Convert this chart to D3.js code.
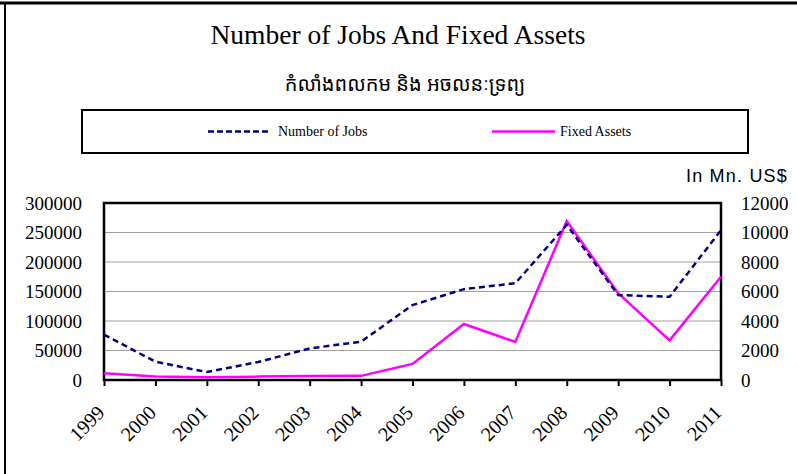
<!DOCTYPE html>
<html>
<head>
<meta charset="utf-8">
<script src="https://cdn.jsdelivr.net/npm/d3@7"></script>
<style>
  body { margin: 0; background: #fff; }
  svg { display: block; }
</style>
</head>
<body>
<div id="chart"></div>
<script>
// chart data
var years = ["1999", "2000", "2001", "2002", "2003", "2004", "2005", "2006", "2007", "2008", "2009", "2010", "2011"];
var jobs = [77000, 31000, 13500, 30500, 53500, 65000, 127000, 154000, 164000, 263000, 144000, 141000, 254000];
var assets = [450, 230, 180, 230, 270, 280, 1090, 3800, 2580, 10780, 5880, 2690, 7000];
var leftTicks = [0, 50000, 100000, 150000, 200000, 250000, 300000];
var rightTicks = [0, 2000, 4000, 6000, 8000, 10000, 12000];

var W = 797, H = 474;
var margin = { top: 203, right: 76, bottom: 94, left: 104 };
var width = W - margin.left - margin.right;
var height = H - margin.top - margin.bottom;

var svg = d3.select("#chart").append("svg")
    .attr("width", W)
    .attr("height", H);

// outer frame (only top and left show in the picture)
svg.append("line").attr("x1", 0).attr("x2", W).attr("y1", 3).attr("y2", 3)
    .attr("stroke", "#000").attr("stroke-width", 3);
svg.append("line").attr("x1", 5).attr("x2", 5).attr("y1", 3).attr("y2", H)
    .attr("stroke", "#000").attr("stroke-width", 2);

// titles
svg.append("text")
    .attr("x", 398).attr("y", 44)
    .attr("text-anchor", "middle")
    .style("font-family", "'Liberation Serif', 'Times New Roman', serif")
    .style("font-size", "27.5px")
    .text("Number of Jobs And Fixed Assets");

svg.append("text")
    .attr("x", 405).attr("y", 91)
    .attr("text-anchor", "middle")
    .style("font-family", "'Khmer OS', 'Noto Sans Khmer', 'Noto Serif Khmer', serif")
    .style("font-size", "20px")
    .text("កំលាំងពលកម និង អចលនៈទ្រព្យ");

// legend
var legend = svg.append("g");
legend.append("rect")
    .attr("x", 82).attr("y", 110)
    .attr("width", 666).attr("height", 43)
    .attr("fill", "#fff").attr("stroke", "#000").attr("stroke-width", 2);
legend.append("line")
    .attr("x1", 208).attr("x2", 268).attr("y1", 131.5).attr("y2", 131.5)
    .attr("stroke", "#000080").attr("stroke-width", 2.5).attr("stroke-dasharray", "6,3");
legend.append("text")
    .attr("x", 278).attr("y", 136)
    .style("font-family", "'Liberation Serif', serif").style("font-size", "14px")
    .text("Number of Jobs");
legend.append("line")
    .attr("x1", 492).attr("x2", 555).attr("y1", 131.5).attr("y2", 131.5)
    .attr("stroke", "#ff00ff").attr("stroke-width", 2.5);
legend.append("text")
    .attr("x", 560).attr("y", 136)
    .style("font-family", "'Liberation Serif', serif").style("font-size", "14px")
    .text("Fixed Assets");

// unit label
svg.append("text")
    .attr("x", 686).attr("y", 182)
    .style("font-family", "'Liberation Sans', Arial, sans-serif")
    .style("font-size", "18px")
    .style("letter-spacing", "1.2px")
    .text("In Mn. US$");

var g = svg.append("g")
    .attr("transform", "translate(" + margin.left + "," + margin.top + ")");

var x = d3.scalePoint().domain(years).range([0, width]);
var yL = d3.scaleLinear().domain([0, 300000]).range([height, 0]);
var yR = d3.scaleLinear().domain([0, 12000]).range([height, 0]);

// grid
g.selectAll(".grid")
    .data(leftTicks.slice(1, -1))
    .enter().append("line")
    .attr("x1", 0).attr("x2", width)
    .attr("y1", function (d) { return yL(d); })
    .attr("y2", function (d) { return yL(d); })
    .attr("stroke", "#a0a0a0").attr("stroke-width", 1);

// left axis
var axL = g.append("g")
    .call(d3.axisLeft(yL).tickValues(leftTicks).tickSize(0).tickPadding(22).tickFormat(d3.format("d")));
axL.select(".domain").remove();
axL.selectAll("text")
    .style("font-family", "'Liberation Serif', serif").style("font-size", "19px");

// right axis
var axR = g.append("g")
    .attr("transform", "translate(" + width + ",0)")
    .call(d3.axisRight(yR).tickValues(rightTicks).tickSize(0).tickPadding(20).tickFormat(d3.format("d")));
axR.select(".domain").remove();
axR.selectAll("text")
    .style("font-family", "'Liberation Serif', serif").style("font-size", "19px");

// x axis
var axX = g.append("g")
    .attr("transform", "translate(0," + height + ")")
    .call(d3.axisBottom(x).tickSize(6));
axX.select(".domain").remove();
axX.selectAll(".tick line").attr("stroke", "#000").attr("stroke-width", 2);
axX.selectAll("text")
    .style("font-family", "'Liberation Serif', serif").style("font-size", "20px")
    .attr("text-anchor", "end")
    .attr("x", -23).attr("y", 25).attr("dy", 0)
    .attr("transform", "rotate(-45)");

// plot frame
g.append("rect")
    .attr("width", width).attr("height", height)
    .attr("fill", "none").attr("stroke", "#000").attr("stroke-width", 2.5);

// lines
var lineL = d3.line()
    .x(function (d, i) { return x(years[i]); })
    .y(function (d) { return yL(d); });
var lineR = d3.line()
    .x(function (d, i) { return x(years[i]); })
    .y(function (d) { return yR(d); });

g.append("path").datum(assets)
    .attr("d", lineR)
    .attr("fill", "none").attr("stroke", "#ff00ff").attr("stroke-width", 2.5);
g.append("path").datum(jobs)
    .attr("d", lineL)
    .attr("fill", "none").attr("stroke", "#000080").attr("stroke-width", 2.5)
    .attr("stroke-dasharray", "6,4");
</script>
</body>
</html>
